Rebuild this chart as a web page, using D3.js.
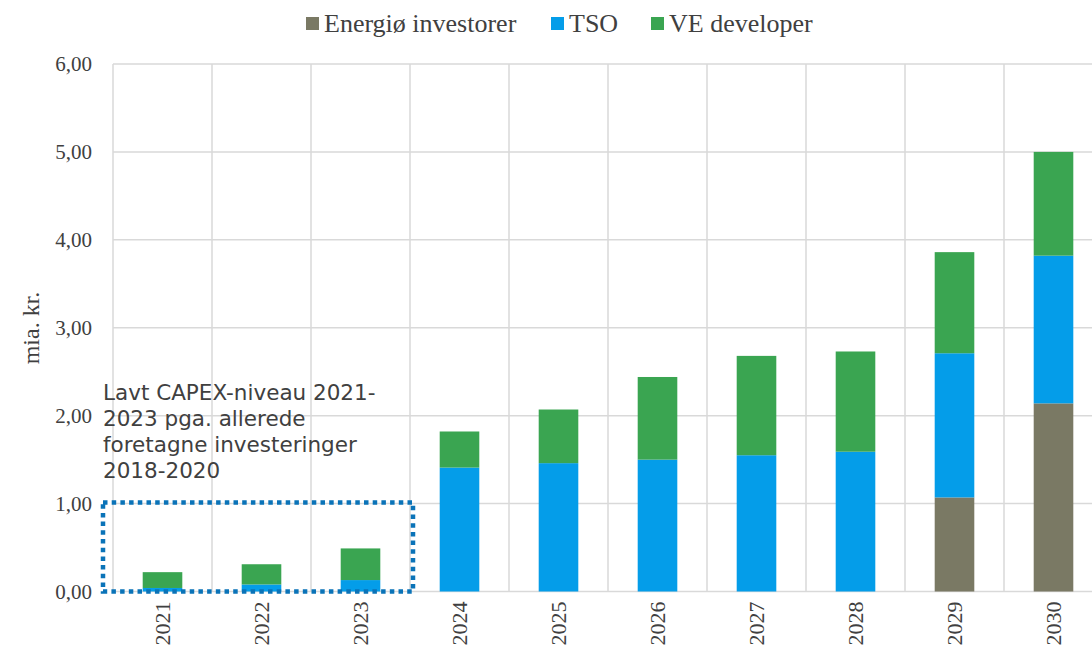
<!DOCTYPE html>
<html><head><meta charset="utf-8">
<script src="https://cdn.jsdelivr.net/npm/d3@7"></script>
<style>body{margin:0;background:#fff;} svg{display:block;} .serif{font-family:"Liberation Serif","DejaVu Serif",serif;} .sans{font-family:"DejaVu Sans",sans-serif;}</style>
</head><body>
<svg id="c" width="1092" height="657"></svg>
<script>
const years = ["2021","2022","2023","2024","2025","2026","2027","2028","2029","2030"];
const energi = [0,0,0,0,0,0,0,0,1.07,2.14];
const tso = [0.04,0.08,0.13,1.41,1.46,1.50,1.55,1.59,1.64,1.68];
const ve = [0.18,0.23,0.36,0.41,0.61,0.94,1.13,1.14,1.15,1.18];
const seriesNames = ["Energiø investorer","TSO","VE developer"];
const seriesColors = ["#7a7964","#049de9","#3aa551"];
const yTicks = [0,1,2,3,4,5,6];
const annotationLines = ["Lavt CAPEX-niveau 2021-","2023 pga. allerede","foretagne investeringer","2018-2020"];

const svg = d3.select("#c");
const L = 113, R = 1103, T = 64, B = 591.5;
const x = d3.scaleBand().domain(years).range([L,R]).paddingInner(0.6).paddingOuter(0.3);
const xg = d3.scaleBand().domain(years).range([L,R]);
const y = d3.scaleLinear().domain([0,6]).range([B,T]);

// grid
const g = svg.append("g");
g.selectAll(".hg").data(yTicks).enter().append("line")
  .attr("x1",L).attr("x2",R).attr("y1",d=>y(d)).attr("y2",d=>y(d))
  .attr("stroke","#d9d9d9").attr("stroke-width",1.5);
g.selectAll(".vg").data(years).enter().append("line")
  .attr("x1",d=>xg(d)).attr("x2",d=>xg(d)).attr("y1",T).attr("y2",B)
  .attr("stroke","#d9d9d9").attr("stroke-width",1.5);

// stacked bars
const table = years.map((yr,i)=>({year:yr,"Energiø investorer":energi[i],"TSO":tso[i],"VE developer":ve[i]}));
const stack = d3.stack().keys(seriesNames)(table);
svg.append("g").selectAll("g").data(stack).enter().append("g")
  .attr("fill",(d,i)=>seriesColors[i])
  .selectAll("rect").data(d=>d).enter().append("rect")
  .attr("x",d=>x(d.data.year)).attr("width",x.bandwidth())
  .attr("y",d=>y(d[1])).attr("height",d=>Math.max(0,y(d[0])-y(d[1])));

// y axis
const ya = svg.append("g").attr("transform",`translate(${L},0)`)
  .call(d3.axisLeft(y).tickValues(yTicks).tickSize(0).tickPadding(21).tickFormat(d=>d3.format(".2f")(d).replace(".",",")));
ya.select(".domain").remove();
ya.attr("font-family",null).attr("font-size",null);
ya.selectAll("text").attr("class","serif").style("font-size","21px").attr("fill","#404040");

// x axis
const xa = svg.append("g").attr("transform",`translate(0,${B})`)
  .call(d3.axisBottom(xg).tickSize(0).tickPadding(0));
xa.select(".domain").remove();
xa.attr("font-family",null).attr("font-size",null);
xa.selectAll("text").attr("class","serif").style("font-size","22px").attr("fill","#404040")
  .attr("transform","rotate(-90)").attr("text-anchor","end").attr("dy","0.35em").attr("x",-10).attr("y",0);

// y label
svg.append("text").attr("class","serif").attr("transform","translate(39,328) rotate(-90)").attr("text-anchor","middle")
  .style("font-size","24px").attr("fill","#404040").text("mia. kr.");

// legend
const legX = [306,551,651];
const leg = svg.append("g");
seriesNames.forEach((n,i)=>{
  leg.append("rect").attr("x",legX[i]).attr("y",17).attr("width",13).attr("height",13).attr("fill",seriesColors[i]);
  leg.append("text").attr("class","serif").attr("x",legX[i]+18).attr("y",32).style("font-size","26px").attr("fill","#404040").text(n);
});

// annotation
const at = svg.append("text").attr("class","sans").style("font-size","21.5px").attr("fill","#404040");
annotationLines.forEach((t,i)=>at.append("tspan").attr("x",103).attr("y",400+i*26).text(t));

// dotted box
svg.append("rect").attr("x",103).attr("y",y(1)-1).attr("width",310).attr("height",B-y(1)+1)
  .attr("fill","none").attr("stroke","#0a73b8").attr("stroke-width",4.5).attr("stroke-dasharray","4.5,4.2");
</script>
</body></html>
